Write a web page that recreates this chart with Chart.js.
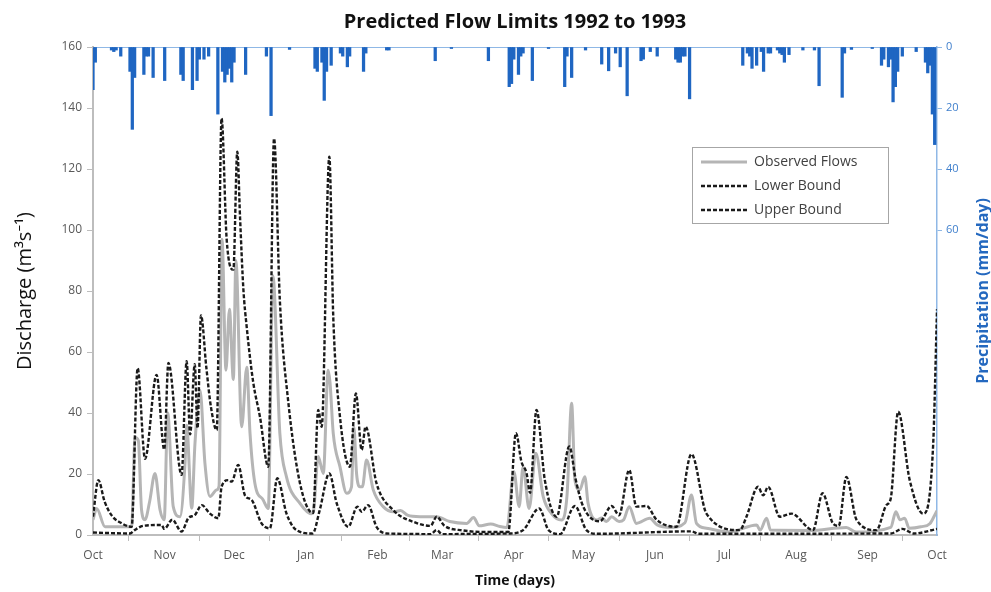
<!DOCTYPE html>
<html>
<head>
<meta charset="utf-8">
<title>Predicted Flow Limits 1992 to 1993</title>
<script src="https://cdn.jsdelivr.net/npm/chart.js@4.4.1/dist/chart.umd.min.js"></script>
<style>
  html, body { margin: 0; padding: 0; background: #ffffff; }
  #wrap { width: 991px; height: 592px; }
</style>
</head>
<body>
<div id="wrap"><canvas id="chart" width="991" height="592"></canvas></div>
<script>
// Month starts, as days counted from 1 October 1992
const monthDays   = [0, 31, 61, 92, 123, 151, 182, 212, 243, 273, 304, 335, 365];
const monthLabels = ['Oct','Nov','Dec','Jan','Feb','Mar','Apr','May','Jun','Jul','Aug','Sep','Oct'];

const dischargeTicks = [0, 20, 40, 60, 80, 100, 120, 140, 160];
const precipTicks    = [0, 20, 40, 60];

// Observed flows (m3/s)
const observedDays = [0, 1.6, 5.2, 16.7, 18.2, 19.6, 21, 22.5, 24.5, 26.8, 29, 30.8, 32.3, 34.7, 37.6, 39.8, 40.5, 42.7, 44.1, 46.3, 48.4, 50.6, 53.5, 54.5, 55.8, 57.5, 59, 60.7, 61.8, 64.3, 66.5, 67.9, 70, 73.6, 75.8, 77.8, 80.8, 83.7, 89.5, 94.5, 95.3, 97.4, 99.6, 101.7, 102.5, 103.9, 106.8, 109.7, 111.8, 112.8, 114, 115.4, 116.5, 118.3, 121.2, 125.5, 130, 133, 136, 141.4, 148.6, 154.3, 161.6, 164.6, 167, 172, 176, 179, 182, 184.3, 186, 188.6, 191.5, 194.7, 198.3, 202.6, 205, 207, 208.4, 210.5, 212.7, 214.1, 217.8, 220, 222, 224.3, 227.5, 229.5, 231.9, 235, 240.8, 244, 250, 256, 258.8, 261, 265.3, 275, 287, 288.5, 291.3, 293, 310, 325.8, 330, 345, 347.2, 349, 351, 353, 358, 362, 364, 365];
const observedFlow = [5, 8.7, 2.7, 2.7, 32, 31, 8.2, 5, 11, 20.2, 8.2, 5, 40, 9.3, 6, 23.6, 36, 8.8, 30, 47.5, 23.6, 12.6, 14.8, 16, 97, 54, 74, 51, 90, 35.5, 55, 33.4, 17, 11.5, 8.7, 85, 33.4, 19, 10.4, 7, 7.6, 25.7, 20.2, 54, 50, 33.3, 22.4, 13.7, 15.8, 35.5, 20, 15.8, 15.8, 24.6, 14.8, 9.3, 7.6, 8, 6.5, 6, 6, 4.4, 3.8, 5.7, 3, 3.6, 2.8, 2.5, 20.8, 9.3, 22.4, 8.7, 26.8, 12.6, 7, 4.9, 13, 43.2, 18, 14.8, 19.1, 10.4, 4.9, 5.6, 4.4, 6, 4.4, 5, 9.3, 3.8, 5.5, 3.3, 2.5, 4, 13.1, 3.8, 2.2, 1, 3.3, 1.6, 5.5, 1.6, 1.5, 2.5, 1, 2.5, 7.6, 5, 5.5, 2.2, 2.7, 3.8, 6.5, 8];

// Lower prediction bound (m3/s)
const lowerDays = [0, 16, 18, 21.7, 29.7, 30.8, 34.3, 38.3, 41.2, 44.1, 47, 50.6, 54.2, 55.6, 58.5, 60, 62.8, 65.7, 68.6, 72.9, 76.5, 79.7, 83.7, 88, 95, 98, 102.2, 105.4, 110.4, 114.3, 116.2, 119, 122.6, 127, 146, 148.6, 151, 180, 186, 193, 197, 202, 208.4, 213.4, 218, 258.8, 262, 345, 350, 355, 365];
const lowerFlow = [0.8, 0.5, 1.6, 3, 3.3, 2, 5, 1.1, 5.5, 6.6, 9.8, 7, 5.5, 15.8, 18, 17.5, 23, 13, 11.5, 3.8, 2.2, 18.6, 7, 1.6, 0.5, 8, 20.2, 10.4, 2.7, 9.3, 7.6, 9.8, 2.7, 0.5, 0.3, 1.6, 0.3, 0.5, 1.6, 8.7, 1.6, 0.3, 9.5, 1.6, 0.4, 1.2, 0.4, 0.5, 2, 0.5, 2];

// Upper prediction bound (m3/s)
const upperDays = [0, 2.3, 5, 8, 12, 16.7, 19.3, 22.5, 27.5, 30.8, 32.6, 38.3, 40.5, 42, 44, 45.2, 46.7, 49, 51, 53.5, 55.6, 57.8, 60.7, 62.4, 63.6, 65, 66.5, 69.3, 72.2, 75.8, 78.3, 80.8, 84.4, 89.5, 95.2, 97.4, 98.9, 102.2, 103.9, 106.8, 111.1, 113.7, 116.2, 117.9, 122.6, 129.8, 140, 146, 148.6, 152, 160, 170, 179.6, 182.9, 185.3, 187.5, 189, 191.8, 195.4, 200.5, 206, 208.8, 212, 219.2, 224.3, 227.5, 231.9, 235, 239.4, 243.7, 252.3, 258.8, 265.3, 279.7, 282.6, 287.6, 289.8, 292, 297, 302, 311.4, 315.5, 320, 322.5, 325.8, 330.2, 338.8, 343.1, 345, 348.2, 353.2, 359, 363.3, 365];
const upperFlow = [6, 18, 11, 6.5, 4, 2.7, 54.7, 25, 52.5, 28, 56.4, 19.7, 57, 33, 56, 35, 72, 55, 42, 34.4, 136.6, 97, 87, 125.7, 104, 81, 68, 50, 38.8, 22.4, 130, 77, 44, 17, 7.2, 41, 35.5, 124, 71.6, 38.8, 22.4, 46.4, 27.9, 35.5, 17, 8.2, 3.9, 3, 6, 3, 1.5, 1, 1, 33.4, 24, 20.3, 13.8, 41, 18, 6, 29, 18, 9.3, 4.5, 9.5, 6.5, 21.3, 9.3, 9.5, 5, 2.7, 26.5, 7, 1.6, 6, 15.8, 13, 15.8, 6, 7, 1.6, 13.7, 3.8, 3, 19, 5, 1.6, 9.8, 12, 40.4, 18, 7, 29, 74];

// Daily precipitation (mm/day), wet days only
const rainDays = [0, 1, 8, 9, 10, 12, 16, 17, 18, 22, 23, 24, 26, 31, 38, 39, 43, 45, 46, 48, 50, 54, 56, 57, 58, 59, 60, 61, 66, 75, 77, 85, 96, 97, 99, 100, 101, 103, 107, 108, 110, 111, 117, 118, 127, 128, 148, 155, 171, 180, 181, 182, 184, 185, 186, 190, 197, 204, 205, 207, 213, 220, 223, 226, 228, 231, 237, 238, 241, 244, 252, 253, 254, 255, 256, 258, 281, 283, 284, 285, 287, 289, 290, 292, 293, 296, 297, 298, 299, 301, 307, 312, 314, 324, 325, 328, 337, 341, 342, 344, 345, 346, 347, 348, 350, 356, 360, 361, 362, 363, 364];
const rainMm   = [14, 5, 1, 1.5, 1, 3, 8, 27, 10, 9, 3, 3, 10, 11, 9, 11, 14, 11, 4, 4, 3, 22, 8, 11.5, 9, 7, 11.5, 5, 9, 3, 22.5, 0.8, 7, 8, 5, 17.5, 8, 6, 2, 3, 6.5, 3, 8, 2, 1, 1, 4.5, 0.5, 4.5, 13, 12, 4, 9, 3, 2, 11, 0.5, 13, 3, 10, 1, 5.6, 7.8, 2, 6.5, 16, 4.5, 4, 1.5, 3, 4, 5, 5, 3, 3, 17, 6, 2, 3, 7, 6, 1.5, 8, 2, 2, 1, 2, 2.5, 5, 2.5, 1, 1, 12.7, 16.5, 2, 0.8, 0.5, 6, 4, 6.5, 4, 18, 13, 8, 3, 1.5, 5, 8.5, 6, 22, 32];

const pairs = (xs, ys) => xs.map((x, i) => ({ x: x, y: ys[i] }));

const FONT = '"Open Sans", "Noto Sans", sans-serif';
const BLUE = '#1f66c2';
const LIGHT_BLUE = '#8fb8e6';
const AXIS_GREY = '#bdbdbd';
const TICK_TEXT = '#595959';

// Legend drawn inside the plot, top right
const boxLegend = {
  id: 'boxLegend',
  afterDatasetsDraw(chart) {
    const ctx = chart.ctx;
    const x0 = 692, y0 = 147, w = 196, h = 76;
    ctx.save();
    ctx.fillStyle = '#ffffff';
    ctx.fillRect(x0, y0, w, h);
    ctx.strokeStyle = '#a6a6a6';
    ctx.lineWidth = 1;
    ctx.setLineDash([]);
    ctx.strokeRect(x0 + 0.5, y0 + 0.5, w, h);
    const rowY = [162, 186, 210];
    ctx.font = '14px ' + FONT;
    ctx.textBaseline = 'middle';
    ctx.textAlign = 'left';
    [0, 1, 2].forEach((di, i) => {
      const ds = chart.data.datasets[di];
      ctx.beginPath();
      ctx.strokeStyle = ds.borderColor;
      ctx.lineWidth = ds.borderWidth;
      ctx.setLineDash(ds.borderDash || []);
      ctx.moveTo(701, rowY[i]);
      ctx.lineTo(747, rowY[i]);
      ctx.stroke();
      ctx.setLineDash([]);
      ctx.fillStyle = '#404040';
      ctx.fillText(ds.label, 754, rowY[i]);
    });
    ctx.restore();
  }
};

// Rotated title for the precipitation axis, reading upwards
const precipTitle = {
  id: 'precipTitle',
  afterDraw(chart) {
    const ctx = chart.ctx;
    const a = chart.chartArea;
    ctx.save();
    ctx.translate(983, (a.top + a.bottom) / 2);
    ctx.rotate(-Math.PI / 2);
    ctx.font = 'bold 16px ' + FONT;
    ctx.fillStyle = '#2468bf';
    ctx.textAlign = 'center';
    ctx.textBaseline = 'middle';
    ctx.fillText('Precipitation (mm/day)', 0, 0);
    ctx.restore();
  }
};

const flowLine = {
  pointRadius: 0,
  cubicInterpolationMode: 'monotone',
  xAxisID: 'x',
  yAxisID: 'y'
};

new Chart(document.getElementById('chart'), {
  type: 'line',
  data: {
    datasets: [
      Object.assign({
        label: 'Observed Flows',
        data: pairs(observedDays, observedFlow),
        borderColor: '#b5b5b5',
        borderWidth: 3,
        order: 3
      }, flowLine),
      Object.assign({
        label: 'Lower Bound',
        data: pairs(lowerDays, lowerFlow),
        borderColor: '#1a1a1a',
        borderWidth: 2.4,
        borderDash: [4, 2],
        order: 1
      }, flowLine),
      Object.assign({
        label: 'Upper Bound',
        data: pairs(upperDays, upperFlow),
        borderColor: '#1a1a1a',
        borderWidth: 2.4,
        borderDash: [4, 2],
        order: 2
      }, flowLine),
      {
        type: 'bar',
        label: 'Precipitation',
        data: pairs(rainDays, rainMm),
        backgroundColor: BLUE,
        borderWidth: 0,
        barThickness: 2.6,
        xAxisID: 'x', yAxisID: 'y1',
        order: 4
      }
    ]
  },
  options: {
    responsive: false,
    animation: false,
    devicePixelRatio: 1,
    layout: { padding: 0 },
    plugins: {
      legend: { display: false },
      tooltip: { enabled: false },
      title: {
        display: true,
        text: 'Predicted Flow Limits 1992 to 1993',
        fullSize: false,
        color: '#111111',
        font: { family: FONT, size: 20, weight: 'bold', lineHeight: 1.2 },
        padding: { top: 10, bottom: 13 }
      }
    },
    scales: {
      x: {
        type: 'linear',
        position: 'bottom',
        min: 0, max: 365,
        offset: false,
        afterBuildTicks: (s) => { s.ticks = monthDays.map(v => ({ value: v })); },
        afterFit: (s) => { s.height = 57; },
        ticks: {
          autoSkip: false,
          maxRotation: 0,
          padding: 7,
          color: TICK_TEXT,
          font: { family: FONT, size: 12 },
          callback: (v) => monthLabels[monthDays.indexOf(v)]
        },
        grid: { display: true, drawOnChartArea: false, drawTicks: true, tickLength: 6, color: AXIS_GREY },
        border: { display: true, color: AXIS_GREY, width: 2 },
        title: {
          display: true,
          text: 'Time (days)',
          color: '#111111',
          font: { family: FONT, size: 14, weight: 'bold', lineHeight: 1.2 },
          padding: { top: 0, bottom: 3 }
        }
      },
      xTop: {
        type: 'linear',
        position: 'top',
        min: 0, max: 365,
        offset: false,
        afterFit: (s) => { s.height = 0; },
        ticks: { display: false },
        grid: { display: false },
        border: { display: true, color: LIGHT_BLUE, width: 1 }
      },
      y: {
        type: 'linear',
        position: 'left',
        min: 0, max: 160,
        afterBuildTicks: (s) => { s.ticks = dischargeTicks.map(v => ({ value: v })); },
        afterFit: (s) => { s.width = 93; },
        ticks: { color: TICK_TEXT, padding: 5, font: { family: FONT, size: 12 } },
        grid: { display: true, drawOnChartArea: false, drawTicks: true, tickLength: 6, color: AXIS_GREY },
        border: { display: true, color: AXIS_GREY, width: 2 },
        title: {
          display: true,
          text: 'Discharge (m³s⁻¹)',
          color: '#111111',
          font: { family: FONT, size: 20, lineHeight: 1.2 },
          padding: { top: 13, bottom: 0 }
        }
      },
      y1: {
        type: 'linear',
        position: 'right',
        reverse: true,
        min: 0, max: 160,
        afterBuildTicks: (s) => { s.ticks = precipTicks.map(v => ({ value: v })); },
        afterFit: (s) => { s.width = 54; },
        ticks: { color: '#3f7fcc', padding: 4, font: { family: FONT, size: 11 } },
        grid: { display: true, drawOnChartArea: false, drawTicks: true, tickLength: 5, color: LIGHT_BLUE },
        border: { display: true, color: LIGHT_BLUE, width: 1.5 }
      }
    }
  },
  plugins: [boxLegend, precipTitle]
});
</script>
</body>
</html>
